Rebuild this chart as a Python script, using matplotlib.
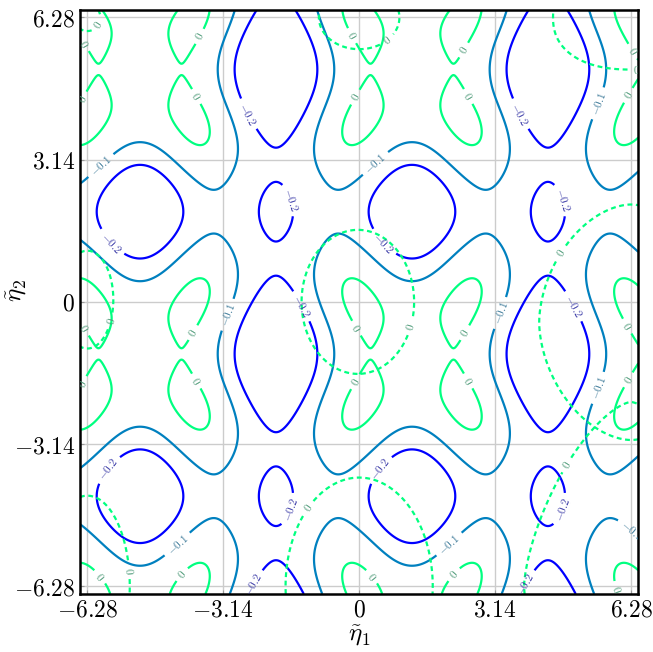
import numpy as np
import matplotlib
matplotlib.use("Agg")
import matplotlib.pyplot as plt

plt.rcParams["mathtext.fontset"] = "cm"
plt.rcParams["font.family"] = "serif"

TWO_PI = 2 * np.pi
PI = np.pi

# centre of the shallow cell (between the four small maxima)
X0, Y0 = 1.22, -1.15

# values, in folded cell coordinates (u, v) in [0, pi]
# extrema / saddles (rough guesses, low weight)
ext_u = [0.0, 1.1, PI, 0.0, PI, 1.75, PI, 0.0, 1.1]
ext_v = [0.0, 0.97, 0.0, PI, PI, PI, 2.07, 1.0, 0.0]
ext_val = [-0.05, 0.03, -0.34, -0.33, -0.225, -0.14, -0.195, -0.03, -0.03]

# points on the 0 contour (small tilted ellipse round the maximum)
zero_u = [1.43, 0.77, 0.77, 1.43, 1.10, 0.64, 1.56, 1.10]
zero_v = [1.68, 0.26, 1.12, 0.82, 1.58, 0.58, 1.36, 0.36]

# points on the -0.1 contour (boundary of the shallow island)
m01_u = [0.0, 0.67, 0.88, 1.57, 2.05, 2.26, 2.20, 1.83]
m01_v = [1.59, 1.88, 2.19, 2.65, 2.40, 1.81, 1.08, 0.0]

# points on the -0.2 contour (ring, lens, small ellipse)
m02_u = [0.97, 0.0, 0.74, 2.16, PI, 2.45, 2.81, PI - 0.38, PI, PI - 0.27]
m02_v = [PI, 2.15, 2.40, 0.0, 1.67, 1.06, 1.45, PI, PI - 0.66, PI - 0.47]

levels = [-0.2, -0.1, 0.0]
level_text = {-0.2: r"$-0.2$", -0.1: r"$-0.1$", 0.0: r"$0$"}
label_colors = ["#3c3ca8", "#3d7a99", "#4d9a78"]

# dashed zero loops: centre, half axes, superellipse exponent
loop_cx = [-0.03, -6.28, 0.0, 6.28, -6.28, 0.0, -6.28, 6.28, 6.28]
loop_cy = [0.0, 0.05, 6.28, 6.28, 6.28, -6.28, -6.28, -6.28, -0.45]
loop_rx = [1.30, 0.60, 0.93, 1.80, 0.30, 1.70, 0.98, 2.47, 2.12]
loop_ry = [1.59, 1.08, 0.70, 1.15, 0.30, 2.40, 2.00, 4.07, 2.60]
loop_p = [2.0, 2.0, 2.0, 2.3, 2.0, 2.0, 2.0, 1.5, 1.8]

ticks = [-6.28, -3.14, 0, 3.14, 6.28]
tick_text = [r"$-6.28$", r"$-3.14$", r"$0$", r"$3.14$", r"$6.28$"]
LIM = 6.45
ORDER = 4


def fold(t):
    return np.abs(np.mod(t + PI, TWO_PI) - PI)


def basis(u, v):
    return np.stack([np.cos(m * u) * np.cos(n * v)
                     for m in range(ORDER) for n in range(ORDER)], axis=-1)


def fit_field():
    u = np.concatenate([ext_u, zero_u, m01_u, m02_u])
    v = np.concatenate([ext_v, zero_v, m01_v, m02_v])
    b = np.concatenate([ext_val, np.zeros(len(zero_u)),
                        np.full(len(m01_u), -0.1), np.full(len(m02_u), -0.2)])
    w = np.concatenate([np.full(len(ext_u), 0.4), np.full(len(zero_u), 1.6),
                        np.ones(len(m01_u)), [1, 1, 1, 1, 1, 1, 1, 2.5, 2.5, 2.5]])
    A = basis(u, v) * w[:, None]
    b = b * w
    pen = np.array([m * m + n * n for m in range(ORDER) for n in range(ORDER)], float)
    return np.linalg.solve(A.T @ A + 1e-5 * np.diag(pen), A.T @ b)


coef = fit_field()
x = np.linspace(-LIM, LIM, 500)
y = np.linspace(-LIM, LIM, 500)
X, Y = np.meshgrid(x, y)
Z = basis(fold(X - X0), fold(Y - Y0)) @ coef

fig = plt.figure(figsize=(6.53, 6.52), dpi=100)
ax = fig.add_axes([0.1225, 0.089, 0.855, 0.896])

cs = ax.contour(X, Y, Z, levels=levels, cmap="winter", linewidths=1.6,
                linestyles="solid")
ax.clabel(cs, fmt=level_text, fontsize=8, inline=True, colors=label_colors)

for cx, cy, rx, ry, p in zip(loop_cx, loop_cy, loop_rx, loop_ry, loop_p):
    L = (np.abs(X - cx) / rx) ** p + (np.abs(Y - cy) / ry) ** p - 1.0
    dc = ax.contour(X, Y, L, levels=[0.0], colors="#00ff80", linewidths=1.6,
                    linestyles=[(0, (2.2, 1.6))])
    ax.clabel(dc, fmt={0.0: r"$0$"}, fontsize=8, inline=True, colors="#4d9a78")

ax.set_xlim(-LIM, LIM)
ax.set_ylim(-LIM, LIM)
ax.set_xticks(ticks)
ax.set_xticklabels(tick_text)
ax.set_yticks(ticks)
ax.set_yticklabels(tick_text)
ax.tick_params(labelsize=17, direction="in", length=3, color="#999999")
ax.grid(True, color="#cccccc", linewidth=1.0)
ax.set_axisbelow(True)
for s in ax.spines.values():
    s.set_linewidth(1.8)
ax.set_xlabel(r"$\tilde{\eta}_1$", fontsize=18, labelpad=1)
ax.set_ylabel(r"$\tilde{\eta}_2$", fontsize=18)
ax.yaxis.set_label_coords(-0.092, 0.52)

fig.savefig("out.png", dpi=100)
